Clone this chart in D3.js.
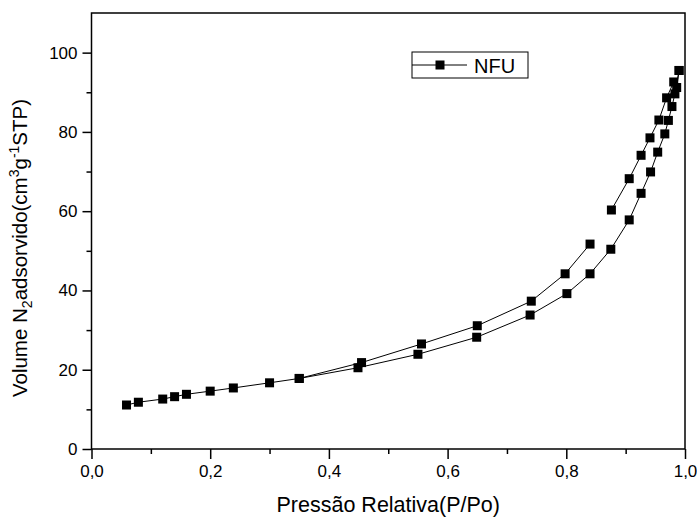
<!DOCTYPE html>
<html>
<head>
<meta charset="utf-8">
<script src="https://cdn.jsdelivr.net/npm/d3@7"></script>
<style>
  body { margin: 0; background: #fff; }
  svg { display: block; font-family: "Liberation Sans", Arial, sans-serif; }
</style>
</head>
<body>
<div id="viz"></div>
<script>
// adsorption branch (lower curve)
const adsP = [0.059, 0.079, 0.120, 0.140, 0.160, 0.200, 0.239, 0.300, 0.350, 0.449, 0.550, 0.649, 0.739, 0.801, 0.840, 0.875, 0.906, 0.926, 0.942, 0.954, 0.966, 0.972, 0.978, 0.983, 0.990];
const adsV = [11.1, 11.8, 12.6, 13.2, 13.8, 14.6, 15.4, 16.7, 17.8, 20.5, 23.9, 28.2, 33.8, 39.2, 44.2, 50.4, 57.8, 64.5, 69.9, 74.9, 79.5, 82.9, 86.4, 89.6, 95.5];
// desorption branch (upper curve), null = gap in the line
const desP = [0.990, 0.986, 0.981, 0.969, 0.956, 0.941, 0.926, 0.906, 0.876, null, 0.840, 0.798, 0.741, 0.650, 0.556, 0.455, 0.350];
const desV = [95.5, 91.2, 92.6, 88.6, 83.0, 78.5, 74.1, 68.2, 60.3, null, 51.7, 44.2, 37.3, 31.1, 26.5, 21.8, 17.8];

const xMajor = [0, 0.2, 0.4, 0.6, 0.8, 1.0];
const xMinor = [0.1, 0.3, 0.5, 0.7, 0.9];
const yMajor = [0, 20, 40, 60, 80, 100];
const yMinor = [10, 30, 50, 70, 90];
const seriesName = 'NFU';

const W = 697, H = 517,
    margin = {top: 13, right: 12, bottom: 68, left: 91.5},
    width = W - margin.left - margin.right,
    height = H - margin.top - margin.bottom;

const x = d3.scaleLinear().domain([0, 1]).range([0, width]);
const y = d3.scaleLinear().domain([0, 110]).range([height, 0]);

const svg = d3.select('#viz').append('svg')
    .attr('width', W)
    .attr('height', H);

const g = svg.append('g')
    .attr('transform', 'translate(' + margin.left + ',' + margin.top + ')');

const comma = d => d3.format('.1f')(d).replace('.', ',');

// axes
const xAxis = g.append('g').attr('transform', 'translate(0,' + height + ')')
    .call(d3.axisBottom(x).tickValues(xMajor).tickSize(10).tickSizeOuter(0).tickPadding(6).tickFormat(comma));
g.append('g').attr('transform', 'translate(0,' + height + ')')
    .call(d3.axisBottom(x).tickValues(xMinor).tickSize(5).tickSizeOuter(0).tickFormat(''));
const yAxis = g.append('g')
    .call(d3.axisLeft(y).tickValues(yMajor).tickSize(9).tickSizeOuter(0).tickPadding(5).tickFormat(d3.format('d')));
g.append('g')
    .call(d3.axisLeft(y).tickValues(yMinor).tickSize(5).tickSizeOuter(0).tickFormat(''));

g.selectAll('.domain').remove();
g.selectAll('.tick line').attr('stroke', '#000').attr('stroke-width', 1.5);
g.selectAll('.tick text').attr('fill', '#000').style('font-size', '17px');

// frame
g.append('rect')
    .attr('width', width)
    .attr('height', height)
    .attr('fill', 'none')
    .attr('stroke', '#000')
    .attr('stroke-width', 1.5);

// series
const ads = adsP.map((p, i) => ({p: p, v: adsV[i]}));
const des = desP.map((p, i) => ({p: p, v: desV[i]}));

const line = d3.line()
    .defined(d => d.p != null)
    .x(d => x(d.p))
    .y(d => y(d.v));

[ads, des].forEach(function(data) {
    g.append('path')
        .datum(data)
        .attr('d', line)
        .attr('fill', 'none')
        .attr('stroke', '#000')
        .attr('stroke-width', 1);
    g.selectAll(null)
        .data(data.filter(d => d.p != null))
        .enter().append('rect')
        .attr('x', d => x(d.p) - 4.5)
        .attr('y', d => y(d.v) - 4.5)
        .attr('width', 9)
        .attr('height', 9)
        .attr('fill', '#000');
});

// legend
const lg = svg.append('g').attr('transform', 'translate(412,52)');
lg.append('rect')
    .attr('width', 116)
    .attr('height', 26)
    .attr('fill', '#fff')
    .attr('stroke', '#000')
    .attr('stroke-width', 1);
lg.append('line')
    .attr('x1', 0).attr('x2', 55)
    .attr('y1', 13).attr('y2', 13)
    .attr('stroke', '#000');
lg.append('rect')
    .attr('x', 23.5).attr('y', 8.5)
    .attr('width', 9).attr('height', 9)
    .attr('fill', '#000');
lg.append('text')
    .attr('x', 62).attr('y', 20.5)
    .style('font-size', '20px')
    .text(seriesName);

// axis titles
svg.append('text')
    .attr('x', margin.left + width / 2)
    .attr('y', 512)
    .attr('text-anchor', 'middle')
    .style('font-size', '21.5px')
    .text('Pressão Relativa(P/Po)');

const yt = svg.append('text')
    .attr('transform', 'translate(27,248) rotate(-90)')
    .attr('text-anchor', 'middle')
    .style('font-size', '20.5px');
yt.append('tspan').text('Volume N');
yt.append('tspan').attr('dy', 5).style('font-size', '14px').text('2');
yt.append('tspan').attr('dy', -5).text('adsorvido(cm');
yt.append('tspan').attr('dy', -8).style('font-size', '14px').text('3');
yt.append('tspan').attr('dy', 8).text('g');
yt.append('tspan').attr('dy', -8).style('font-size', '14px').text('-1');
yt.append('tspan').attr('dy', 8).text('STP)');
</script>
</body>
</html>
